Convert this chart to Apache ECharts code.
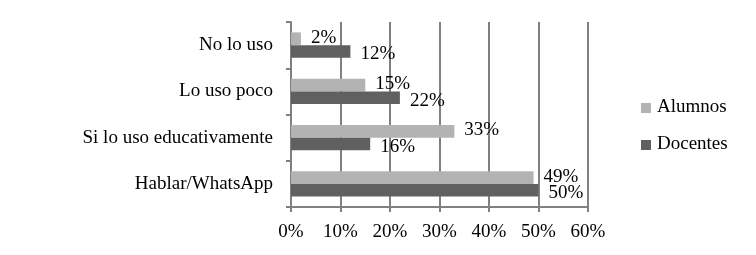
<!DOCTYPE html>
<html>
<head>
<meta charset="utf-8">
<script src="https://cdn.jsdelivr.net/npm/echarts@6/dist/echarts.min.js"></script>
<style>
html,body{margin:0;padding:0;background:#fff;}
#chart{width:756px;height:255px;}
</style>
</head>
<body>
<div id="chart"></div>
<script>
var categorias = ['Hablar/WhatsApp', 'Si lo uso educativamente', 'Lo uso poco', 'No lo uso'];
var alumnos = [49, 33, 15, 2];
var docentes = [50, 16, 22, 12];
var ticks = [0, 10, 20, 30, 40, 50, 60];
var series_nombres = ['Alumnos', 'Docentes'];

var fuente = 'Liberation Serif';
var chart = echarts.init(document.getElementById('chart'));

// nombres de la leyenda como texto grafico, con fuente serif
var textoLeyenda = series_nombres.map(function (n, i) {
    return {
        type: 'text',
        left: 657,
        top: 98 + i * 37,
        style: {text: n, fontFamily: fuente, fontSize: 19, fontWeight: 'normal', fill: '#000'}
    };
});

option = {
    animation: false,
    backgroundColor: '#fff',
    textStyle: {fontFamily: fuente},
    graphic: textoLeyenda,
    legend: {
        orient: 'vertical',
        left: 636,
        top: 98,
        itemWidth: 10,
        itemHeight: 10,
        itemGap: 27,
        icon: 'rect',
        formatter: function () { return ''; },
        data: series_nombres
    },
    grid: {left: 291, right: 168, top: 22, bottom: 48},
    xAxis: {
        type: 'value',
        min: 0,
        max: 60,
        interval: 10,
        axisLine: {show: true, lineStyle: {color: '#808080', width: 2}},
        axisTick: {show: true, length: 5, lineStyle: {color: '#808080', width: 2}},
        splitLine: {show: true, lineStyle: {color: '#808080', width: 2}},
        axisLabel: {
            fontFamily: fuente, fontSize: 19, color: '#000', margin: 16,
            formatter: function (v) { return ticks.indexOf(v) >= 0 ? v + '%' : ''; }
        }
    },
    yAxis: {
        type: 'category',
        data: categorias,
        axisLine: {show: true, lineStyle: {color: '#808080', width: 2}},
        axisTick: {show: true, length: 5, lineStyle: {color: '#808080', width: 2}},
        axisLabel: {fontFamily: fuente, fontSize: 19, color: '#000', margin: 18}
    },
    series: [
        {
            name: series_nombres[0],
            type: 'bar',
            data: alumnos,
            barGap: '0%',
            barCategoryGap: '45%',
            itemStyle: {color: '#b3b3b3'},
            label: {
                show: true, position: 'right', distance: 10, offset: [0, -1],
                formatter: '{c}%', fontFamily: fuente, fontSize: 19, color: '#000'
            }
        },
        {
            name: series_nombres[1],
            type: 'bar',
            data: docentes,
            itemStyle: {color: '#606060'},
            label: {
                show: true, position: 'right', distance: 10, offset: [0, 3],
                formatter: '{c}%', fontFamily: fuente, fontSize: 19, color: '#000'
            }
        }
    ]
};
chart.setOption(option);
</script>
</body>
</html>
